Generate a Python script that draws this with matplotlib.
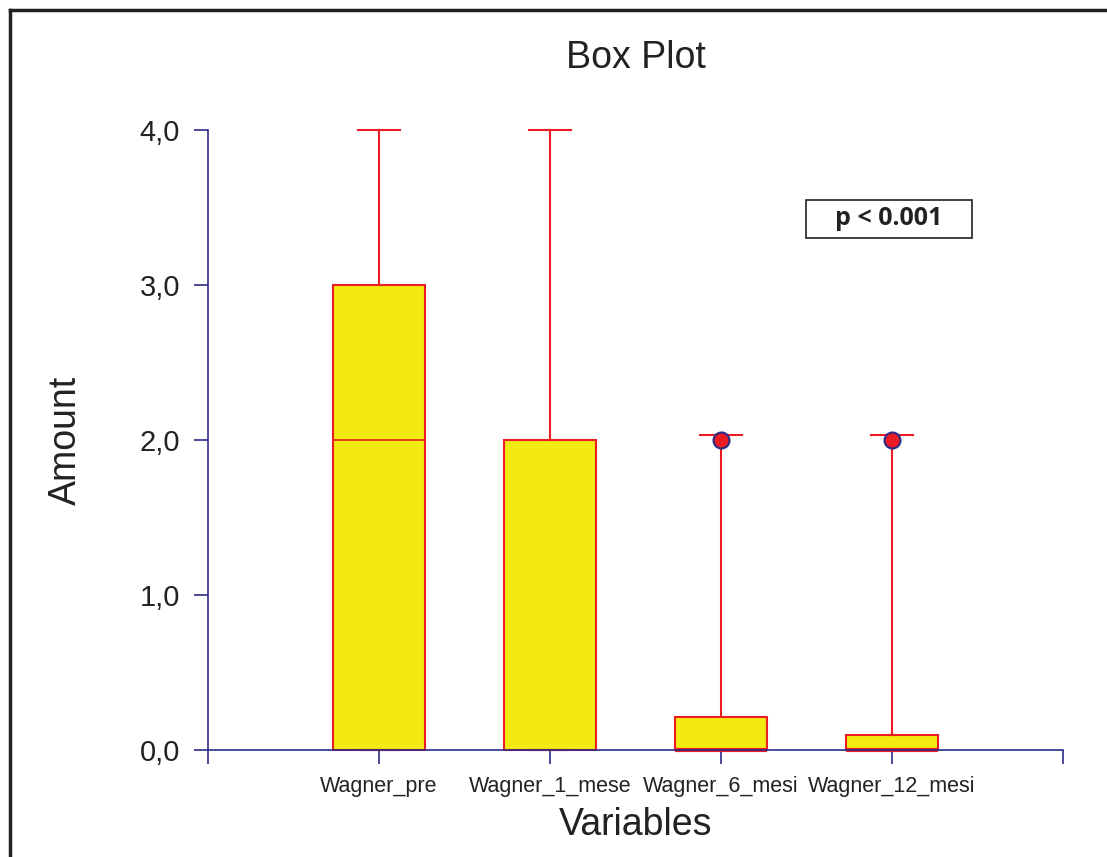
import matplotlib
matplotlib.use("Agg")
import matplotlib.pyplot as plt
from matplotlib.patches import Rectangle
from matplotlib.lines import Line2D

# box plot summary values
variables = ["Wagner_pre", "Wagner_1_mese", "Wagner_6_mesi", "Wagner_12_mesi"]
q1 = [0.0, 0.0, 0.0, 0.0]
medians = [2.0, 2.0, 0.0, 0.0]
q3 = [3.0, 2.0, 0.21, 0.1]
whisker_low = [0.0, 0.0, 0.0, 0.0]
whisker_high = [4.0, 4.0, 2.03, 2.03]
outliers = [[], [], [2.0], [2.0]]
y_ticks = [0.0, 1.0, 2.0, 3.0, 4.0]

navy = "#2b2b86"
red = "#ec1c24"
yellow = "#f2ea10"
narrow = ["Liberation Sans Narrow", "Liberation Sans", "DejaVu Sans"]

fig = plt.figure(figsize=(11.07, 8.57), dpi=100)
ax = fig.add_axes([208 / 1107, 1 - 750 / 857, 855 / 1107, 620 / 857])

stats = []
for i in range(len(variables)):
    stats.append({"label": variables[i], "q1": q1[i], "med": medians[i], "q3": q3[i],
                  "whislo": whisker_low[i], "whishi": whisker_high[i], "fliers": outliers[i]})

bp = ax.bxp(stats, positions=range(1, len(variables) + 1), widths=0.54, patch_artist=True,
            showfliers=True,
            boxprops=dict(facecolor=yellow, edgecolor=red, linewidth=1.5),
            whiskerprops=dict(color=red, linewidth=1.5),
            capprops=dict(color=red, linewidth=1.5),
            medianprops=dict(color=red, linewidth=1.2),
            flierprops=dict(marker="o", markerfacecolor=red, markeredgecolor=navy,
                            markeredgewidth=1.5, markersize=11.5))
for cap in bp["caps"]:
    x = cap.get_xdata()
    c = (x[0] + x[1]) / 2
    cap.set_xdata([c - 0.125, c + 0.125])
for i, med in enumerate(bp["medians"]):
    if medians[i] == q1[i]:
        med.set_linewidth(3)
for group in bp.values():
    for a in group:
        a.set_clip_on(False)

ax.set_xlim(0, 5)
ax.set_ylim(0, 4)
ax.set_xticks(range(0, 6))
ax.set_xticklabels([""] + variables + [""], fontsize=15.5, family=narrow)
ax.set_yticks(y_ticks)
ax.set_yticklabels([f"{v:.1f}".replace(".", ",") for v in y_ticks], fontsize=21,
                   family=["Liberation Sans", "DejaVu Sans"])
ax.tick_params(axis="both", colors=navy, length=10, width=1.2, labelcolor="#222222")
ax.tick_params(axis="x", pad=9)
ax.tick_params(axis="y", pad=10)

for s in ["top", "right"]:
    ax.spines[s].set_visible(False)
for s in ["left", "bottom"]:
    ax.spines[s].set_color(navy)
    ax.spines[s].set_linewidth(1.2)

ax.set_title("Box Plot", fontsize=27, family=narrow, pad=45, color="#222222")
ax.set_xlabel("Variables", fontsize=27, family=narrow, labelpad=7, color="#222222")
ax.set_ylabel("Amount", fontsize=27, family=narrow, labelpad=40, color="#222222")

# p-value box
ax.add_patch(Rectangle((0.6994, 0.8258), 0.1942, 0.0613, transform=ax.transAxes,
                       facecolor="white", edgecolor="#222222", linewidth=1.2, clip_on=False))
ax.text(0.7965, 0.8565, "p < 0.001", transform=ax.transAxes, ha="center", va="center",
        fontsize=18, fontweight="bold", family=["Open Sans", "DejaVu Sans"], color="#222222")

# outer frame
fig.add_artist(Line2D([10 / 1107, 10 / 1107], [0, 1 - 10 / 857], color="#222222", linewidth=2.5,
                      transform=fig.transFigure))
fig.add_artist(Line2D([10 / 1107, 1], [1 - 10 / 857, 1 - 10 / 857], color="#222222", linewidth=2.5,
                      transform=fig.transFigure))

fig.savefig("out.png", dpi=100)
